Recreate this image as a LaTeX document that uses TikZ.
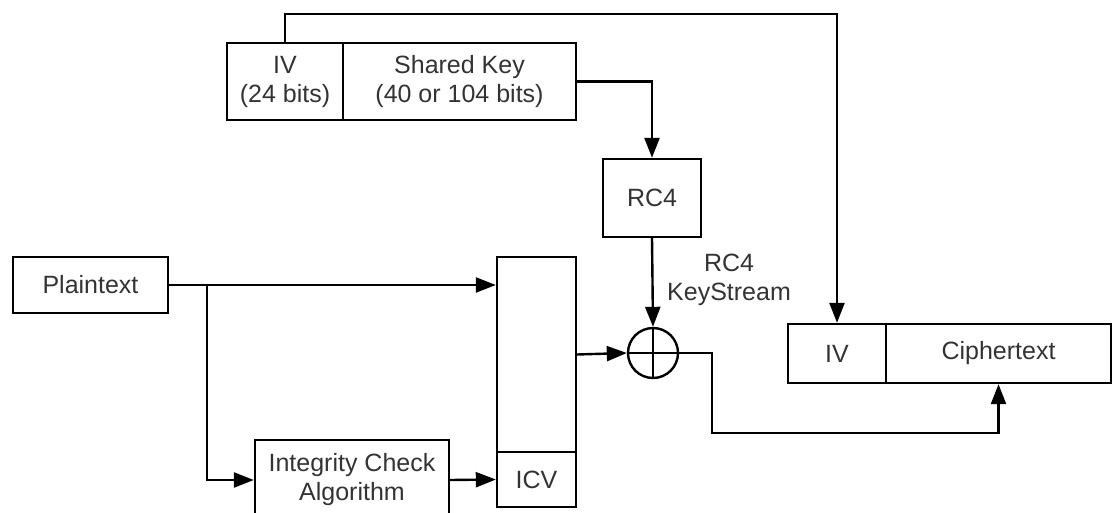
\documentclass[tikz,border=0pt]{standalone}
\usepackage{fontspec}
\setmainfont{Liberation Sans}
\usetikzlibrary{arrows.meta}
\begin{document}
\begin{tikzpicture}[x=1pt,y=-1pt,>={Triangle[length=20pt,width=15pt]},line width=2.4pt,
		box/.style={draw,rectangle,inner sep=0pt,align=center,text=black!80,
			font=\fontsize{25}{29}\selectfont},
		lbl/.style={inner sep=0pt,align=center,text=black!80,font=\fontsize{25}{29}\selectfont}]
			\useasboundingbox (0,0) rectangle (1113,513);
			\clip (0,0) rectangle (1113,513);
			\node[box,minimum width=116pt,minimum height=77pt] (iv) at (285,81.5) {IV\\(24 bits)};
			\node[box,minimum width=233pt,minimum height=77pt] (key) at (459.5,81.5) {Shared Key\\(40 or 104 bits)};
			\node[box,minimum width=98pt,minimum height=78pt] (rc4) at (652,198) {RC4};
			\node[box,minimum width=155pt,minimum height=56pt] (plain) at (90.5,285) {Plaintext};
			\node[box,minimum width=79pt,minimum height=195pt] (msg) at (536.5,354.5) {};
			\node[box,minimum width=79pt,minimum height=55pt] (icv) at (536.5,479.5) {ICV};
			\node[box,minimum width=194pt,minimum height=80pt] (ica) at (352,480) {Integrity Check\\Algorithm};
			\node[draw,circle,minimum size=50pt,inner sep=0pt] (xor) at (653,353) {};
			\draw (xor.north)--(xor.south) (xor.west)--(xor.east);
			\node[lbl] (ks) at (729,280) {RC4\\KeyStream};
			\node[box,minimum width=98pt,minimum height=59pt] (civ) at (837,353.5) {IV};
			\node[box,minimum width=225pt,minimum height=59pt] (ctext) at (998.5,353.5) {Ciphertext};
			\path (207,285) coordinate (br);
			\draw[->] (iv.north) |- (837,14) -- (civ.north);
			\draw[->] (key.east) -| (rc4.north);
			\draw[->] (rc4.south)--(xor.north);
			\draw[->] (plain.east)--(plain.east -| msg.west);
			\draw[->] (br) |- (ica.west);
			\draw[->] (ica.east)--(icv.west);
			\draw[->] (msg.east)--(xor.west);
			\draw[->] (xor.east)--++(33,0)--++(0,80) -| (ctext.south);
	\end{tikzpicture}
\end{document}
